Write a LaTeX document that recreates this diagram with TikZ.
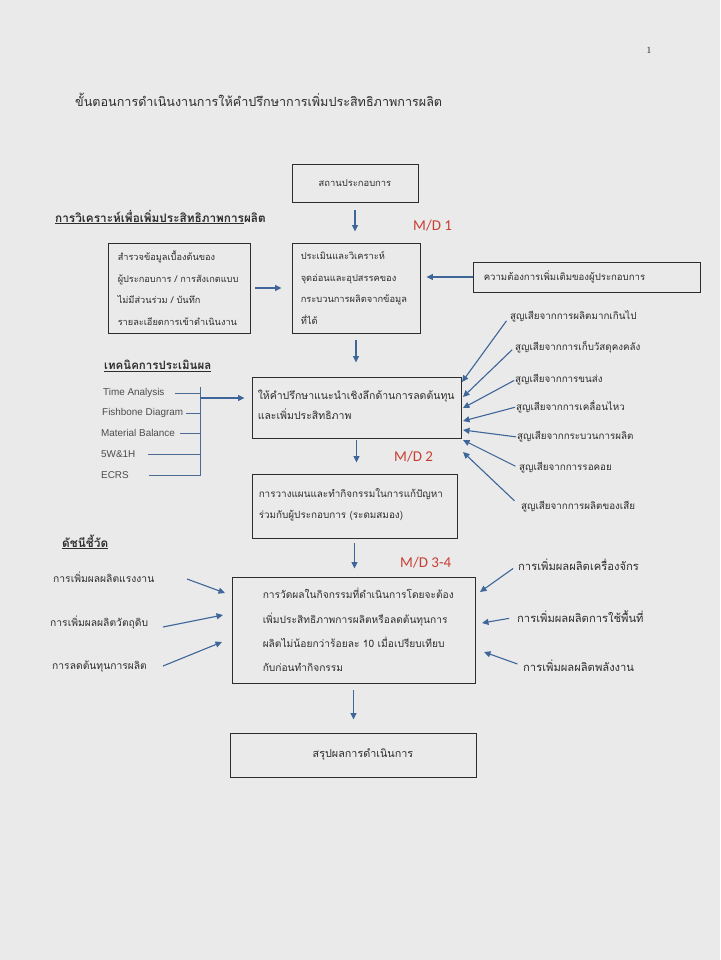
\documentclass[tikz,border=0pt]{standalone}
\usepackage{fontspec}
\setmainfont{Liberation Sans}
\newfontfamily\thaifont[Script=Thai]{Loma}
\newfontfamily\mdfont{Carlito}
\newfontfamily\numfont{Liberation Serif}
\usetikzlibrary{arrows.meta,calc}
\definecolor{paper}{RGB}{234,234,235}
\definecolor{arrowblue}{RGB}{62,102,152}
\definecolor{mdred}{RGB}{200,62,50}
\definecolor{ink}{RGB}{45,45,45}
\tikzset{
  box/.style={draw=ink, line width=0.9pt, inner sep=0pt},
  btext/.style={anchor=west, align=left, inner sep=0pt, text=ink, font=\thaifont\fontsize{9}{21.5}\selectfont},
  lbl/.style={anchor=west, inner sep=0pt, text=ink, font=\thaifont\fontsize{9.8}{11}\selectfont},
  ind/.style={anchor=west, inner sep=0pt, text=ink, font=\thaifont\fontsize{10.3}{12}\selectfont},
  indr/.style={anchor=west, inner sep=0pt, text=ink, font=\thaifont\fontsize{11.2}{13}\selectfont},
  head/.style={anchor=west, inner sep=0pt, text=ink, font=\thaifont\bfseries\fontsize{11.8}{13}\selectfont},
  tech/.style={anchor=west, inner sep=0pt, text=ink!85, font=\fontsize{9.9}{11}\selectfont},
  md/.style={anchor=west, inner sep=0pt, text=mdred, font=\mdfont\fontsize{15}{16}\selectfont},
  arr/.style={draw=arrowblue, line width=1.1pt, -{Triangle[length=6.5pt,width=6pt]}},
  tline/.style={draw=arrowblue!80!gray, line width=0.9pt},
}
\begin{document}
\begin{tikzpicture}[x=1pt,y=-1pt]
\fill[paper] (0,0) rectangle (720,960);
\useasboundingbox (0,0) rectangle (720,960);

% page number and title
\node[anchor=center, inner sep=0pt, text=ink, font=\numfont\fontsize{9.5}{10}\selectfont] (pg) at (649,50) {1};
\node[anchor=west, inner sep=0pt, text=ink, font=\thaifont\fontsize{12.6}{14}\selectfont] (title) at (75,100)
  {ขั้นตอนการดำเนินงานการให้คำปรึกษาการเพิ่มประสิทธิภาพการผลิต};

% boxes
\node[box, minimum width=126pt, minimum height=38pt] (b1) at (355,183) {};
\node[anchor=center, inner sep=0pt, text=ink, font=\thaifont\fontsize{9.4}{10}\selectfont] (t1) at (b1.center) {สถานประกอบการ};

\node[box, minimum width=142pt, minimum height=90pt] (b2) at (179,288) {};
\node[btext, font=\thaifont\fontsize{9.2}{21.5}\selectfont] (t2) at ([xshift=10pt]b2.west) {สำรวจข้อมูลเบื้องต้นของ\\ผู้ประกอบการ / การสังเกตแบบ\\ไม่มีส่วนร่วม / บันทึก\\รายละเอียดการเข้าดำเนินงาน};

\node[box, minimum width=128pt, minimum height=90pt] (b3) at (356,288) {};
\node[btext, font=\thaifont\fontsize{9.3}{21.5}\selectfont] (t3) at ([xshift=9pt]b3.west) {ประเมินและวิเคราะห์\\จุดอ่อนและอุปสรรคของ\\กระบวนการผลิตจากข้อมูล\\ที่ได้};

\node[box, minimum width=227pt, minimum height=30pt] (b4) at (586.5,277) {};
\node[btext, font=\thaifont\fontsize{9.6}{11}\selectfont] (t4) at ([xshift=11pt]b4.west) {ความต้องการเพิ่มเติมของผู้ประกอบการ};

\node[box, minimum width=209pt, minimum height=61pt] (b5) at (356.5,407.5) {};
\node[btext, font=\thaifont\fontsize{10.5}{20}\selectfont] (t5) at ([xshift=6pt,yshift=3pt]b5.west) {ให้คำปรึกษาแนะนำเชิงลึกด้านการลดต้นทุน\\และเพิ่มประสิทธิภาพ};

\node[box, minimum width=205pt, minimum height=64pt] (b6) at (354.5,506) {};
\node[btext, font=\thaifont\fontsize{9.9}{21}\selectfont] (t6) at ([xshift=7pt,yshift=1pt]b6.west) {การวางแผนและทำกิจกรรมในการแก้ปัญหา\\ร่วมกับผู้ประกอบการ (ระดมสมอง)};

\node[box, minimum width=243pt, minimum height=106pt] (b7) at (353.5,630) {};
\node[btext, font=\thaifont\fontsize{10.2}{24.4}\selectfont] (t7) at ([xshift=31pt]b7.west) {การวัดผลในกิจกรรมที่ดำเนินการโดยจะต้อง\\เพิ่มประสิทธิภาพการผลิตหรือลดต้นทุนการ\\ผลิตไม่น้อยกว่าร้อยละ 10 เมื่อเปรียบเทียบ\\กับก่อนทำกิจกรรม};

\node[box, minimum width=246pt, minimum height=44pt] (b8) at (353,755) {};
\node[anchor=center, inner sep=0pt, text=ink, font=\thaifont\fontsize{10.8}{12}\selectfont] (t8) at ([xshift=10pt]b8.center) {สรุปผลการดำเนินการ};

% headings
\node[head] (h1) at (55,217) {\underline{การวิเคราะห์เพื่อเพิ่มประสิทธิภาพการ}ผลิต};
\node[head, font=\thaifont\bfseries\fontsize{11.5}{13}\selectfont] (h2) at (104,366) {\underline{เทคนิคการประเมินผล}};
\node[head] (h3) at (62,542) {\underline{ดัชนีชี้วัด}};

% M/D labels
\node[md] (md1) at (413,226) {M/D 1};
\node[md] (md2) at (394,457) {M/D 2};
\node[md] (md3) at (400,563) {M/D 3-4};

% main flow arrows
\draw[arr, shorten <=8pt, shorten >=11pt] (b1.south) -- (b1.south |- b3.north);
\draw[arr, shorten <=5pt, shorten >=10pt] (b2.east) -- (b3.west);
\draw[arr, shorten >=6pt] (b4.west) -- (b4.west -| b3.east);
\draw[arr, shorten <=7pt, shorten >=14pt] (b3.south) -- (b3.south |- b5.north);
\draw[arr, shorten <=2pt, shorten >=11pt] (b5.south) -- (b5.south |- b6.north);
\draw[arr, shorten <=5pt, shorten >=8pt] (b6.south) -- (b6.south |- b7.north);
\draw[arr, shorten <=7pt, shorten >=13pt] (b7.south) -- (b7.south |- b8.north);

% techniques
\node[tech] (ta) at (103,393) {Time Analysis};
\node[tech] (tb) at (102,413) {Fishbone Diagram};
\node[tech] (tc) at (101,433) {Material Balance};
\node[tech] (td) at (101,454) {5W\&1H};
\node[tech] (te) at (101,475) {ECRS};
\coordinate (vtop) at (200,387);
\coordinate (vbot) at (200,476);
\coordinate (vmid) at (200,398);
\draw[tline] (vtop) -- (vbot);
\draw[tline, shorten <=10pt] (ta.east) -- (ta.east -| vtop);
\draw[tline, shorten <=3pt] (tb.east) -- (tb.east -| vtop);
\draw[tline, shorten <=5pt] (tc.east) -- (tc.east -| vtop);
\draw[tline, shorten <=12pt] (td.east) -- (td.east -| vtop);
\draw[tline, shorten <=20pt] (te.east) -- (te.east -| vtop);
\draw[arr, shorten >=7pt] (vmid) -- (vmid -| b5.west);

% losses
\node[lbl] (l1) at (510,316) {สูญเสียจากการผลิตมากเกินไป};
\node[lbl] (l2) at (515,347) {สูญเสียจากการเก็บวัสดุคงคลัง};
\node[lbl] (l3) at (515,380) {สูญเสียจากการขนส่ง};
\node[lbl] (l4) at (516,407) {สูญเสียจากการเคลื่อนไหว};
\node[lbl] (l5) at (517,437) {สูญเสียจากกระบวนการผลิต};
\node[lbl] (l6) at (519,468) {สูญเสียจากการรอคอย};
\node[lbl] (l7) at (521,507) {สูญเสียจากการผลิตของเสีย};
\coordinate (e1) at (462,382);
\coordinate (e2) at (463,397);
\coordinate (e3) at (463,408);
\coordinate (e4) at (463,421);
\coordinate (e5) at (463,430);
\coordinate (e6) at (463,440);
\coordinate (e7) at (463,452);
\draw[arr, shorten <=6pt] (l1.west) -- (e1);
\draw[arr, shorten <=4pt] (l2.west) -- (e2);
\draw[arr, shorten <=1pt] (l3.west) -- (e3);
\draw[arr, shorten <=1pt] (l4.west) -- (e4);
\draw[arr, shorten <=1pt] (l5.west) -- (e5);
\draw[arr, shorten <=4pt] (l6.west) -- (e6);
\draw[arr, shorten <=9pt] (l7.west) -- (e7);

% indicators left
\node[ind] (k1) at (53,577) {การเพิ่มผลผลิตแรงงาน};
\node[ind] (k2) at (50,623) {การเพิ่มผลผลิตวัตถุดิบ};
\node[ind] (k3) at (52,667) {การลดต้นทุนการผลิต};
\coordinate (ks1) at (187,579);
\coordinate (ks2) at (163,627);
\coordinate (ks3) at (163,666);
\coordinate (ke1) at (225,593);
\coordinate (ke2) at (223,615);
\coordinate (ke3) at (222,642);
\draw[arr] (ks1) -- (ke1);
\draw[arr] (ks2) -- (ke2);
\draw[arr] (ks3) -- (ke3);

% indicators right
\node[indr] (r1) at (518,565) {การเพิ่มผลผลิตเครื่องจักร};
\node[indr] (r2) at (517,617) {การเพิ่มผลผลิตการใช้พื้นที่};
\node[indr] (r3) at (523,666) {การเพิ่มผลผลิตพลังงาน};
\coordinate (re1) at (480,592);
\coordinate (re2) at (482,623);
\coordinate (re3) at (484,652);
\draw[arr, shorten <=6pt] (r1.west) -- (re1);
\draw[arr, shorten <=8pt] (r2.west) -- (re2);
\draw[arr, shorten <=6pt] (r3.west) -- (re3);
\end{tikzpicture}
\end{document}
